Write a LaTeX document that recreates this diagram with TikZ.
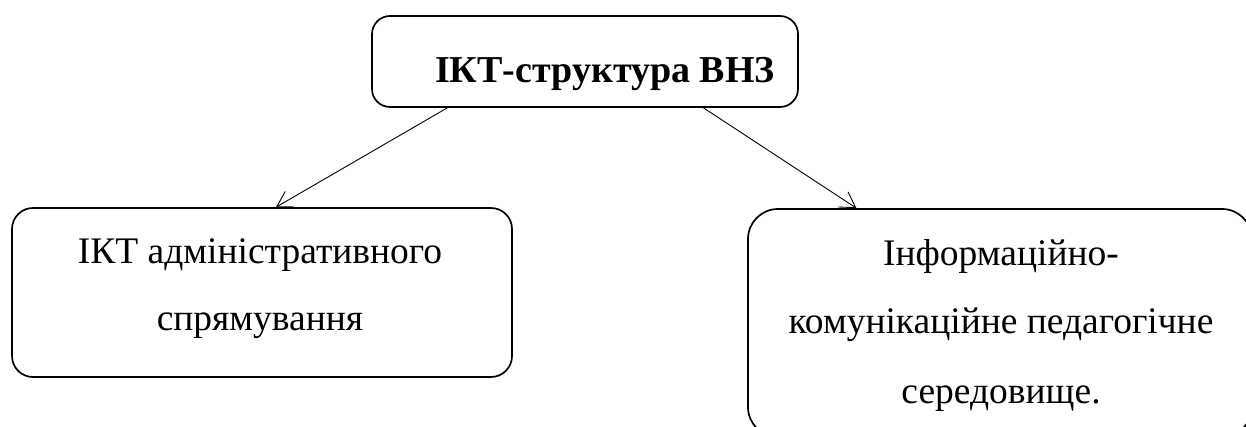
\documentclass[tikz,border=0pt]{standalone}
\usepackage{fontspec}
\setmainfont{Liberation Serif}
\usetikzlibrary{arrows.meta,calc}
\begin{document}
\begin{tikzpicture}[x=1pt,y=-1pt,
  box/.style={draw, line width=1.7pt, inner sep=0pt},
  body/.style={anchor=base, inner sep=0pt, font=\fontsize{37.5}{44}\selectfont},
  title/.style={anchor=base, inner sep=0pt, font=\fontsize{38}{46}\selectfont\bfseries},
  link/.style={line width=0.9pt, -{Straight Barb[length=15pt,width=18pt]}}]
\useasboundingbox (0,0) rectangle (1246,427);
\clip (0,0) rectangle (1246,427);
% boxes
\node[box, rounded corners=18pt, minimum width=426pt, minimum height=91pt] (top) at (585,61.5) {};
\node[box, rounded corners=21pt, minimum width=500pt, minimum height=169pt] (left) at (262,292.5) {};
\node[box, rounded corners=30pt, minimum width=504pt, minimum height=228pt] (right) at (1000,323) {};
% labels
\node[title] (ttl) at (605,83) {ІКТ-структура ВНЗ};
\node[body] (l1) at (260,264) {ІКТ адміністративного};
\node[body] (l2) at (260,330) {спрямування};
\node[body] (r1) at (1001,266) {Інформаційно-};
\node[body] (r2) at (1001,333) {комунікаційне педагогічне};
\node[body] (r3) at (1001,403) {середовище.};
% connectors
\draw[link] ($(top.south west)!0.178!(top.south east)$) -- ($(left.north west)!0.528!(left.north east)$);
\draw[link] ($(top.south west)!0.777!(top.south east)$) -- ($(right.north west)!0.216!(right.north east)$);
\end{tikzpicture}
\end{document}
